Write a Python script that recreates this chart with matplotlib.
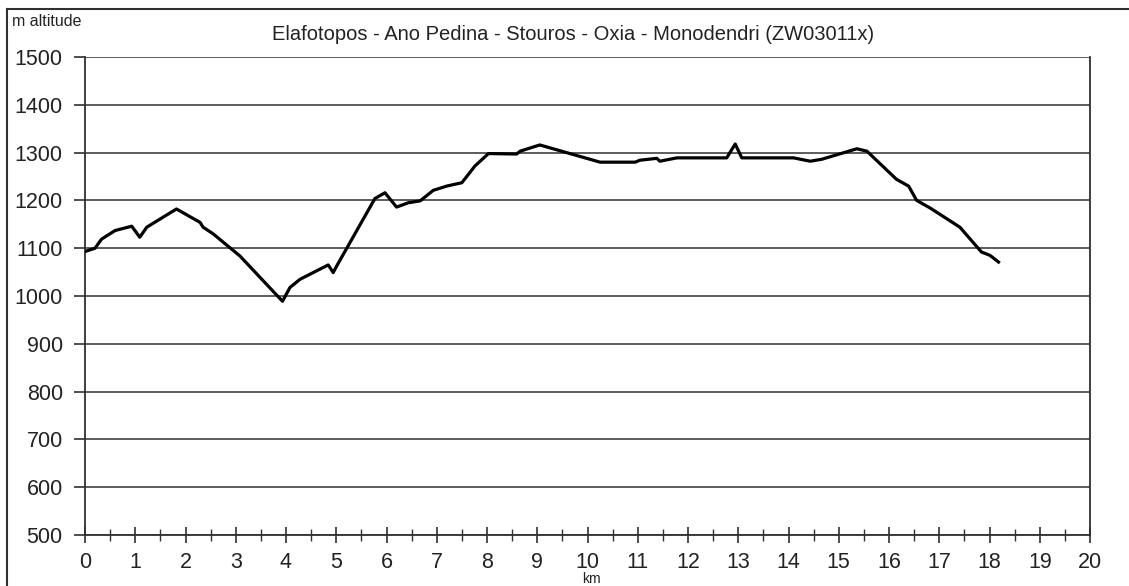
import matplotlib
matplotlib.use("Agg")
import matplotlib.pyplot as plt
from matplotlib.ticker import MultipleLocator
from matplotlib.lines import Line2D

plt.rcParams['font.family'] = ['Liberation Sans', 'DejaVu Sans']

title = "Elafotopos - Ano Pedina - Stouros - Oxia - Monodendri (ZW03011x)"
ylabel = "m altitude"
xlabel = "km"

km = [0.0, 0.2, 0.33, 0.6, 0.93, 1.09, 1.23, 1.82, 2.29, 2.35, 2.55, 3.08,
      3.93, 4.08, 4.28, 4.84, 4.94, 5.01, 5.77, 5.97, 6.2, 6.43, 6.67, 6.93,
      7.2, 7.5, 7.76, 8.03, 8.59, 8.66, 9.05, 10.25, 10.95, 11.04, 11.38,
      11.44, 11.78, 12.77, 12.94, 13.07, 14.1, 14.43, 14.66, 15.36, 15.56,
      16.15, 16.39, 16.55, 16.82, 17.41, 17.84, 18.01, 18.18]
alt = [1093, 1100, 1119, 1137, 1146, 1123, 1144, 1182, 1154, 1144, 1130, 1084,
       989, 1018, 1035, 1065, 1049, 1063, 1204, 1216, 1186, 1195, 1199, 1221,
       1230, 1237, 1272, 1298, 1297, 1303, 1316, 1280, 1280, 1284, 1288,
       1282, 1289, 1289, 1318, 1289, 1289, 1282, 1286, 1308, 1303,
       1244, 1230, 1200, 1184, 1144, 1092, 1085, 1071]

W, H = 1129, 586
fig = plt.figure(figsize=(W / 100, H / 100), dpi=100)
ax = fig.add_axes([85 / W, 1 - 535 / H, (1090 - 85) / W, (535 - 57) / H])

ax.plot(km, alt, color='black', lw=2.3, solid_joinstyle='round', zorder=3)

ax.set_xlim(0, 20)
ax.set_ylim(500, 1500)
ax.xaxis.set_major_locator(MultipleLocator(1))
ax.xaxis.set_minor_locator(MultipleLocator(0.5))
ax.yaxis.set_major_locator(MultipleLocator(100))
ax.yaxis.grid(True, color='#303030', lw=1.1)
ax.set_axisbelow(True)

for s in ['left', 'bottom', 'right']:
    ax.spines[s].set_color('#303030')
    ax.spines[s].set_linewidth(1.3)
ax.spines['top'].set_visible(False)

ax.tick_params(axis='x', which='major', direction='inout', length=12, width=1.2,
               color='#303030', labelsize=15.5, labelcolor='#222222', pad=6)
ax.tick_params(axis='x', which='minor', direction='inout', length=9, width=1.0,
               color='#303030')
ax.tick_params(axis='y', which='major', direction='out', length=8, width=1.2,
               color='#303030', labelsize=15.5, labelcolor='#222222', pad=8)

fig.text(573 / W, 1 - 35 / H, title, ha='center', va='center', fontsize=14.5,
         color='#222222')
fig.text(12 / W, 1 - 21 / H, ylabel, ha='left', va='center', fontsize=11.5,
         color='#222222')
fig.text(591 / W, 1 - 579 / H, xlabel, ha='center', va='center', fontsize=10,
         color='#222222')

# outer frame (top and left edges visible)
fig.add_artist(Line2D([7 / W, 1.0], [1 - 9 / H, 1 - 9 / H], transform=fig.transFigure,
                      color='#303030', lw=1.5))
fig.add_artist(Line2D([7 / W, 7 / W], [0, 1 - 9 / H], transform=fig.transFigure,
                      color='#303030', lw=1.5))

fig.savefig('out.png', dpi=100, facecolor='white')
